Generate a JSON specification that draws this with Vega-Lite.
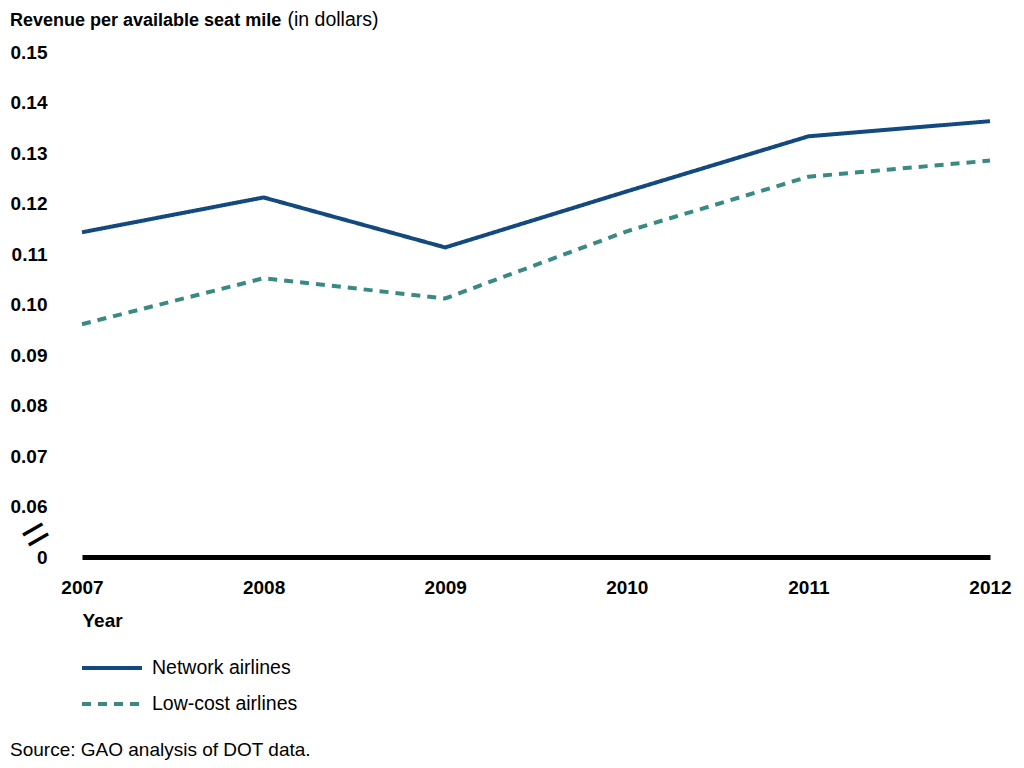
{
  "$schema": "https://vega.github.io/schema/vega-lite/v6.json",
  "width": 908,
  "height": 505,
  "autosize": {"type": "none"},
  "padding": {"left": 82, "top": 52, "right": 34, "bottom": 211},
  "background": "white",
  "title": {
    "text": "Revenue per available seat mile",
    "anchor": "start",
    "frame": "group",
    "dx": -72,
    "offset": -35,
    "baseline": "alphabetic",
    "font": "Liberation Sans",
    "fontSize": 18,
    "fontWeight": "bold",
    "color": "black"
  },
  "data": {
    "values": [
      {"year": 2007, "series": "Network airlines", "value": 0.1143},
      {"year": 2008, "series": "Network airlines", "value": 0.1212},
      {"year": 2009, "series": "Network airlines", "value": 0.1113},
      {"year": 2010, "series": "Network airlines", "value": 0.1224},
      {"year": 2011, "series": "Network airlines", "value": 0.1333},
      {"year": 2012, "series": "Network airlines", "value": 0.1363},
      {"year": 2007, "series": "Low-cost airlines", "value": 0.0961},
      {"year": 2008, "series": "Low-cost airlines", "value": 0.1052},
      {"year": 2009, "series": "Low-cost airlines", "value": 0.1012},
      {"year": 2010, "series": "Low-cost airlines", "value": 0.1145},
      {"year": 2011, "series": "Low-cost airlines", "value": 0.1253},
      {"year": 2012, "series": "Low-cost airlines", "value": 0.1285}
    ]
  },
  "resolve": {"axis": {"y": "independent"}},
  "layer": [
    {
      "mark": {"type": "line", "strokeWidth": 4, "strokeCap": "butt"},
      "encoding": {
        "x": {
          "field": "year",
          "type": "ordinal",
          "scale": {"type": "point", "padding": 0},
          "axis": {
            "title": "Year",
            "titleFont": "Liberation Sans",
            "titleFontSize": 19,
            "titleFontWeight": "bold",
            "titleColor": "black",
            "titleAnchor": "start",
            "titleAlign": "left",
            "titlePadding": 14,
            "labelAngle": 0,
            "labelFont": "Liberation Sans",
            "labelFontSize": 19,
            "labelFontWeight": "bold",
            "labelColor": "black",
            "labelPadding": 21,
            "ticks": false,
            "tickSize": 0,
            "domainColor": "black",
            "domainWidth": 5,
            "grid": false
          }
        },
        "y": {
          "field": "value",
          "type": "quantitative",
          "scale": {"domain": [0.05, 0.15], "nice": false, "zero": false},
          "axis": {
            "orient": "left",
            "title": "(in dollars)",
            "titleAngle": 0,
            "titleAlign": "left",
            "titleBaseline": "alphabetic",
            "titleX": 205,
            "titleY": -27,
            "titleFont": "Liberation Sans",
            "titleFontSize": 19.5,
            "titleFontWeight": "normal",
            "titleColor": "black",
            "values": [0.05, 0.06, 0.07, 0.08, 0.09, 0.10, 0.11, 0.12, 0.13, 0.14, 0.15],
            "labelExpr": "datum.value < 0.0525 ? '0' : format(datum.value, '.2f')",
            "labelFont": "Liberation Sans",
            "labelFontSize": 19,
            "labelFontWeight": "bold",
            "labelColor": "black",
            "labelPadding": 35,
            "labelOverlap": false,
            "labelFlush": false,
            "ticks": false,
            "tickSize": 0,
            "domain": false,
            "grid": false
          }
        },
        "color": {
          "field": "series",
          "type": "nominal",
          "title": "Source: GAO analysis of DOT data.",
          "scale": {"domain": ["Network airlines", "Low-cost airlines"], "range": ["#12497f", "#3a8a84"]}
        },
        "strokeDash": {
          "field": "series",
          "type": "nominal",
          "title": "Source: GAO analysis of DOT data.",
          "scale": {"domain": ["Network airlines", "Low-cost airlines"], "range": [[1, 0], [9, 7]]}
        }
      }
    },
    {
      "mark": {"type": "point", "opacity": 0},
      "encoding": {
        "y": {
          "field": "value",
          "type": "quantitative",
          "scale": {"domain": [0.05, 0.15], "nice": false, "zero": false},
          "axis": {
            "orient": "right",
            "offset": -966,
            "title": null,
            "values": [0.055],
            "labelExpr": "'='",
            "labelAngle": -30,
            "labelAlign": "left",
            "labelBaseline": "middle",
            "labelOffset": 10,
            "labelFont": "Liberation Sans",
            "labelFontSize": 46,
            "labelFontWeight": "normal",
            "labelColor": "black",
            "labelPadding": 0,
            "labelOverlap": false,
            "labelFlush": false,
            "ticks": false,
            "tickSize": 0,
            "domain": false,
            "grid": false
          }
        }
      }
    }
  ],
  "config": {
    "view": {"stroke": null},
    "legend": {
      "orient": "none",
      "legendX": -72,
      "legendY": 604,
      "direction": "vertical",
      "padding": 0,
      "symbolType": "M-3,0H3",
      "symbolSize": 400,
      "symbolStrokeWidth": 4,
      "symbolOffset": 90,
      "labelOffset": 28,
      "rowPadding": 14,
      "labelFont": "Liberation Sans",
      "labelFontSize": 19.5,
      "labelColor": "black",
      "labelLimit": 400,
      "titleOrient": "bottom",
      "titleAnchor": "start",
      "titlePadding": 27,
      "titleFont": "Liberation Sans",
      "titleFontSize": 19,
      "titleFontWeight": "normal",
      "titleColor": "black",
      "titleLimit": 600
    }
  }
}
